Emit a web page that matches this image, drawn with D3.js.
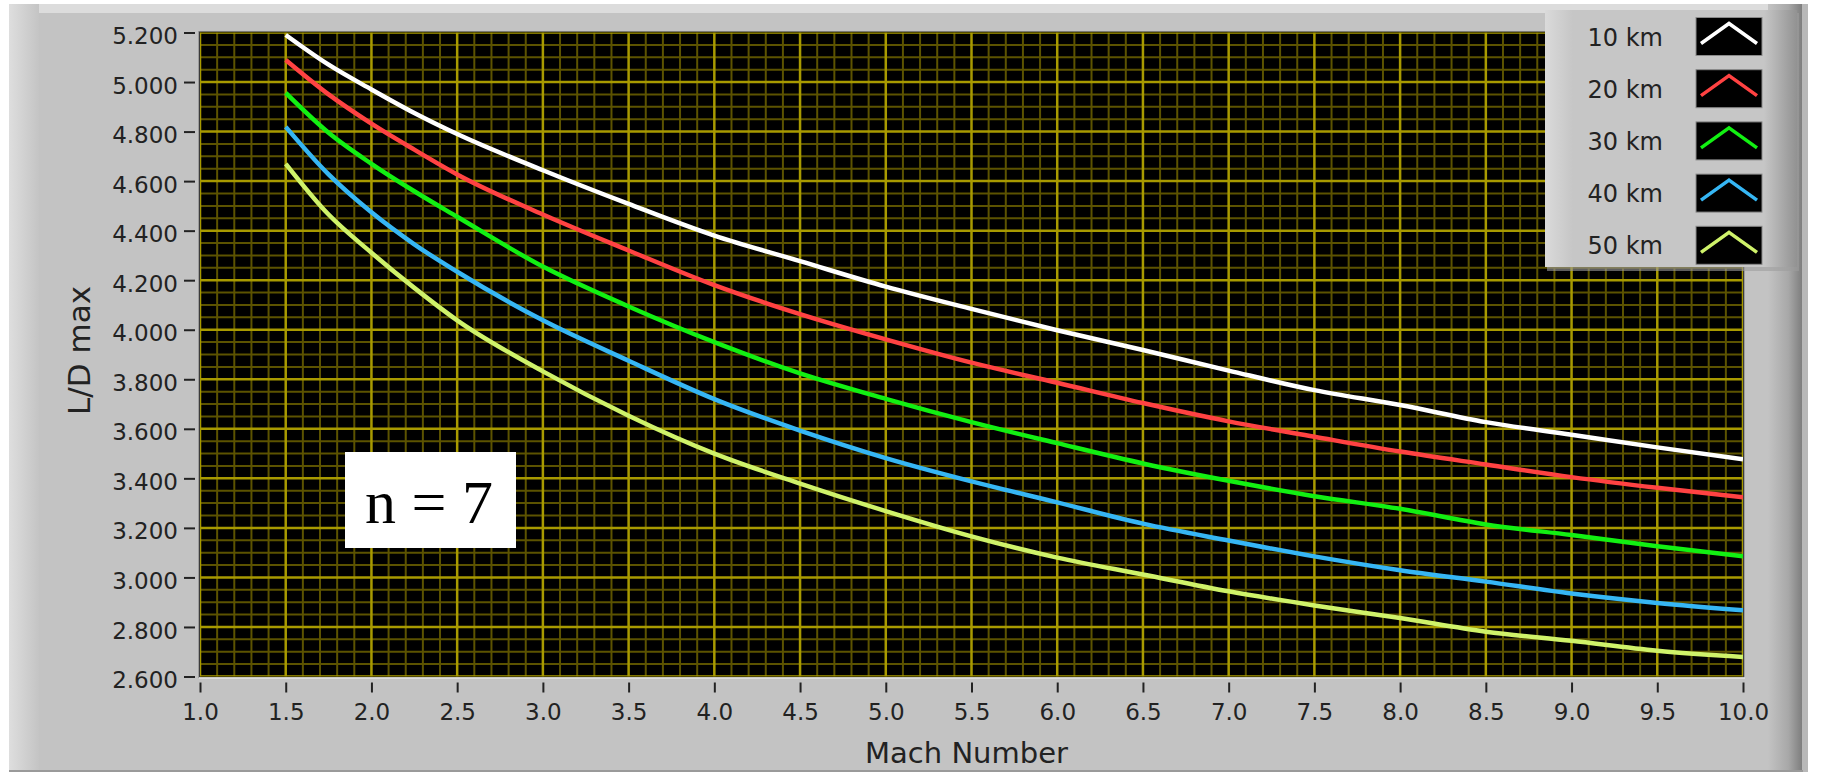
<!doctype html>
<html lang="en">
    <head>
        <meta charset="utf-8">
        <script src="https://d3js.org/d3.v7.min.js"></script>
        <style>
            body { margin: 0; background: #ffffff; }
            text { font-family: "DejaVu Sans", sans-serif; fill: #222; }
        </style>
    </head>
    <body>
        <div id="viz"></div>
<script>

// values
const mach = [1.5, 1.75, 2.0, 2.25, 2.5, 3.0, 3.5, 4.0, 4.5, 5.0, 5.5, 6.0, 6.5, 7.0, 7.5, 8.0, 8.5, 9.0, 9.5, 10.0];
const km10 = [5.19, 5.07, 4.97, 4.875, 4.79, 4.644, 4.508, 4.38, 4.277, 4.174, 4.084, 3.998, 3.918, 3.835, 3.756, 3.696, 3.627, 3.576, 3.525, 3.477];
const km20 = [5.089, 4.95, 4.832, 4.727, 4.627, 4.465, 4.32, 4.18, 4.063, 3.961, 3.867, 3.786, 3.704, 3.63, 3.568, 3.508, 3.456, 3.405, 3.362, 3.324];
const km30 = [4.956, 4.795, 4.67, 4.559, 4.456, 4.255, 4.094, 3.95, 3.824, 3.721, 3.627, 3.542, 3.46, 3.39, 3.328, 3.277, 3.214, 3.171, 3.126, 3.085];
const km40 = [4.819, 4.627, 4.474, 4.345, 4.234, 4.038, 3.875, 3.72, 3.593, 3.482, 3.388, 3.303, 3.217, 3.149, 3.085, 3.029, 2.983, 2.935, 2.897, 2.867];
const km50 = [4.67, 4.465, 4.311, 4.169, 4.038, 3.832, 3.653, 3.50, 3.379, 3.268, 3.166, 3.08, 3.012, 2.944, 2.887, 2.836, 2.781, 2.744, 2.704, 2.679];

const seriesNames = ["10 km", "20 km", "30 km", "40 km", "50 km"];
const seriesValues = [km10, km20, km30, km40, km50];
const seriesColors = ["#ffffff", "#ff4242", "#12f012", "#36b6f4", "#cff26a"];

const xTicks = d3.range(0, 19).map(i => 1 + i * 0.5);
const yTicks = d3.range(0, 14).map(i => 2.6 + i * 0.2);
const xMinor = d3.range(0, 91).map(i => 1 + i * 0.1);
const yMinor = d3.range(0, 53).map(i => 2.6 + i * 0.05);

const noteText = "n = 7";

width = 1822
height = 774

const x = d3.scaleLinear().domain([1, 10]).range([200, 1743]);
const y = d3.scaleLinear().domain([2.6, 5.2]).range([676.5, 32.5]);

const svg = d3.select("#viz")
    .append("svg")
    .attr("width", width)
    .attr("height", height);

const defs = svg.append("defs");

function hgrad(id, stops) {
    const g = defs.append("linearGradient").attr("id", id)
        .attr("x1", 0).attr("x2", 1).attr("y1", 0).attr("y2", 0);
    stops.forEach(s => g.append("stop").attr("offset", s[0]).attr("stop-color", s[1]));
}
hgrad("leftEdge", [[0, "#dedede"], [1, "#c4c4c4"]]);
hgrad("rightEdge", [[0, "#c3c3c3"], [0.6, "#a8a8a8"], [1, "#7e7e7e"]]);
hgrad("legLeft", [[0, "#dadada"], [1, "#c6c6c6"]]);
hgrad("legRight", [[0, "#c6c6c6"], [1, "#929292"]]);

defs.append("clipPath").attr("id", "plotClip")
    .append("rect")
    .attr("x", x(1)).attr("y", y(5.2))
    .attr("width", x(10) - x(1)).attr("height", y(2.6) - y(5.2));

// panel frame
svg.append("rect").attr("x", 9).attr("y", 4).attr("width", 1794).attr("height", 768).attr("fill", "#c3c3c3");
svg.append("rect").attr("x", 9).attr("y", 4).attr("width", 1794).attr("height", 9).attr("fill", "#dcdcdc");
svg.append("rect").attr("x", 9).attr("y", 4).attr("width", 30).attr("height", 768).attr("fill", "url(#leftEdge)");
svg.append("rect").attr("x", 1768).attr("y", 4).attr("width", 34).attr("height", 768).attr("fill", "url(#rightEdge)");
svg.append("rect").attr("x", 1802).attr("y", 4).attr("width", 6).attr("height", 768).attr("fill", "#b8b8b8");
svg.append("rect").attr("x", 9).attr("y", 770).attr("width", 1794).attr("height", 2).attr("fill", "#9a9a9a");

// plot area
svg.append("rect")
    .attr("x", x(1) - 1).attr("y", y(5.2) - 1)
    .attr("width", x(10) - x(1) + 2).attr("height", y(2.6) - y(5.2) + 2)
    .attr("fill", "#000")
    .attr("stroke", "#777")
    .attr("stroke-width", 1);
svg.append("line")
    .attr("x1", x(1) - 1).attr("x2", x(10) + 2)
    .attr("y1", y(2.6) + 1.5).attr("y2", y(2.6) + 1.5)
    .attr("stroke", "#e4e4e4").attr("stroke-width", 1.5);

const grid = svg.append("g").attr("clip-path", "url(#plotClip)");

const isMajor = (v, step) => Math.abs(v / step - Math.round(v / step)) < 1e-6;

grid.append("g").selectAll("line")
    .data(xMinor.filter(v => !isMajor(v, 0.5)))
    .join("line")
    .attr("x1", d => x(d)).attr("x2", d => x(d))
    .attr("y1", y(5.2)).attr("y2", y(2.6))
    .attr("stroke", "#5c5300").attr("stroke-width", 2);

grid.append("g").selectAll("line")
    .data(yMinor.filter(v => !isMajor(v - 2.6, 0.2)))
    .join("line")
    .attr("y1", d => y(d)).attr("y2", d => y(d))
    .attr("x1", x(1)).attr("x2", x(10))
    .attr("stroke", "#5c5300").attr("stroke-width", 2);

grid.append("g").selectAll("line")
    .data(xTicks)
    .join("line")
    .attr("x1", d => x(d)).attr("x2", d => x(d))
    .attr("y1", y(5.2)).attr("y2", y(2.6))
    .attr("stroke", "#a89a00").attr("stroke-width", 2.5);

grid.append("g").selectAll("line")
    .data(yTicks)
    .join("line")
    .attr("y1", d => y(d)).attr("y2", d => y(d))
    .attr("x1", x(1)).attr("x2", x(10))
    .attr("stroke", "#a89a00").attr("stroke-width", 2.5);

// curves
const line = d3.line()
    .x((d, i) => x(mach[i]))
    .y(d => y(d))
    .curve(d3.curveMonotoneX);

grid.append("g")
    .attr("fill", "none")
    .attr("stroke-width", 4.5)
    .attr("stroke-linejoin", "round")
    .selectAll("path")
    .data(seriesValues)
    .join("path")
    .attr("stroke", (d, i) => seriesColors[i])
    .attr("d", line);

// axes
const xAxis = d3.axisBottom(x)
    .tickValues(xTicks)
    .tickFormat(d3.format(".1f"))
    .tickSizeInner(10).tickSizeOuter(0).tickPadding(11);

const gx = svg.append("g")
    .attr("transform", `translate(0,${y(2.6) + 6})`)
    .call(xAxis);
gx.select(".domain").remove();
gx.selectAll(".tick line").attr("stroke", "#222").attr("stroke-width", 2);
gx.selectAll(".tick text").style("font-size", "23px").attr("fill", "#222");

const yAxis = d3.axisLeft(y)
    .tickValues(yTicks)
    .tickFormat(d3.format(".3f"))
    .tickSizeInner(11).tickSizeOuter(0).tickPadding(6);

const gy = svg.append("g")
    .attr("transform", `translate(${x(1) - 5},0)`)
    .call(yAxis);
gy.select(".domain").remove();
gy.selectAll(".tick line").attr("stroke", "#222").attr("stroke-width", 2);
gy.selectAll(".tick text").style("font-size", "23px").attr("fill", "#222").attr("dy", "0.48em");

svg.append("text")
    .attr("x", (x(1) + x(10)) / 2 - 5)
    .attr("y", 763)
    .attr("text-anchor", "middle")
    .style("font-size", "29px")
    .text("Mach Number");

svg.append("text")
    .attr("transform", `translate(90,${(y(2.6) + y(5.2)) / 2 - 4}) rotate(-90)`)
    .attr("text-anchor", "middle")
    .style("font-size", "31px")
    .text("L/D max");

// n = 7 box
svg.append("rect")
    .attr("x", 345).attr("y", 452).attr("width", 171).attr("height", 96)
    .attr("fill", "#fff");
svg.append("text")
    .attr("x", 365).attr("y", 523)
    .style("font-family", "'Liberation Serif', 'Times New Roman', serif")
    .style("font-size", "62px")
    .style("fill", "#000")
    .text(noteText);

// legend
const legend = svg.append("g");
legend.append("rect").attr("x", 1547).attr("y", 13).attr("width", 252).attr("height", 258).attr("fill", "#9c9c9c").attr("opacity", 0.6);
legend.append("rect").attr("x", 1545).attr("y", 10).attr("width", 252).attr("height", 257).attr("fill", "#c6c6c6");
legend.append("rect").attr("x", 1545).attr("y", 10).attr("width", 28).attr("height", 257).attr("fill", "url(#legLeft)");
legend.append("rect").attr("x", 1764).attr("y", 10).attr("width", 33).attr("height", 257).attr("fill", "url(#legRight)");

const row = legend.selectAll("g.row")
    .data(seriesNames)
    .join("g")
    .attr("class", "row")
    .attr("transform", (d, i) => `translate(0,${36.5 + i * 52.2})`);

row.append("text")
    .attr("x", 1663)
    .attr("y", 9)
    .attr("text-anchor", "end")
    .style("font-size", "24px")
    .text(d => d);

row.append("rect")
    .attr("x", 1696).attr("y", -19).attr("width", 66).attr("height", 38)
    .attr("fill", "#000")
    .attr("stroke", "#8a8a8a").attr("stroke-width", 1);

row.append("path")
    .attr("d", "M1701,7L1729,-13L1757,7")
    .attr("fill", "none")
    .attr("stroke-width", 3.5)
    .attr("stroke", (d, i) => seriesColors[i]);

        </script>
    </body>
</html>
